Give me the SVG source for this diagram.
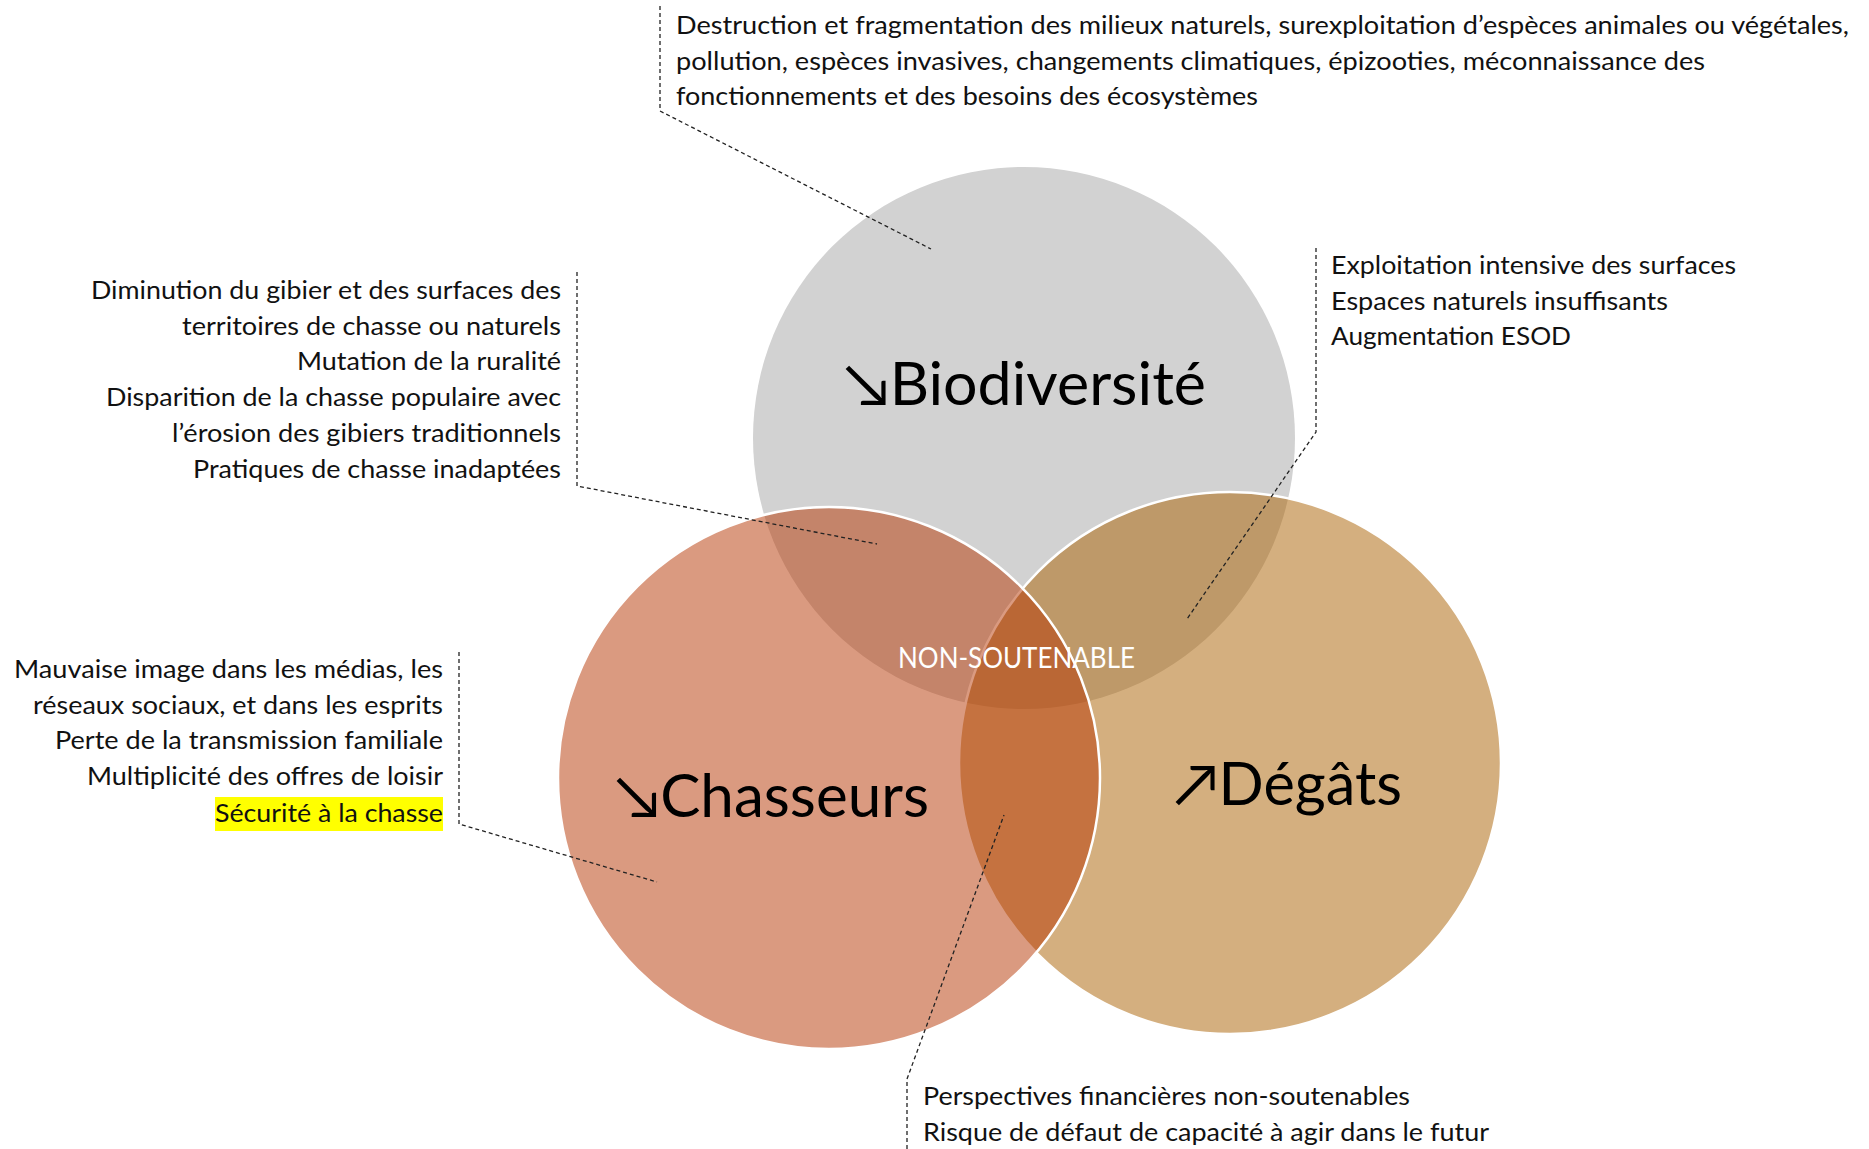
<svg xmlns="http://www.w3.org/2000/svg" width="1869" height="1149" viewBox="0 0 1869 1149">
<style>
.t{font-family:Lato,"Liberation Sans","DejaVu Sans",sans-serif;font-weight:400;font-size:25px;fill:#111}
.e{text-anchor:end}
.big{font-family:Lato,"Liberation Sans","DejaVu Sans",sans-serif;font-size:60px;fill:#000}
.ns{font-family:Lato,"Liberation Sans",sans-serif;font-weight:400;font-size:28px;fill:#fff}
.c{stroke:#fff;stroke-width:2.5}
.dl{fill:none;stroke:#222;stroke-width:1.3;stroke-dasharray:4 3}
</style>
<rect width="1869" height="1149" fill="#fff"/>
<g id="biodiversite">
<circle cx="1024" cy="438" r="271" fill="#D2D2D2"/>
</g>
<g id="degats">
<circle class="c" cx="1230" cy="763" r="271" fill="#AA6000" fill-opacity="0.5"/>
</g>
<g id="chasseurs">
<circle class="c" cx="829" cy="778" r="271" fill="#B53501" fill-opacity="0.5"/>
</g>
<g id="labels">
<text class="big" x="844" y="405" textLength="362" lengthAdjust="spacingAndGlyphs">↘Biodiversité</text>
<text class="big" x="615" y="817" textLength="314" lengthAdjust="spacingAndGlyphs">↘Chasseurs</text>
<text class="big" x="1174" y="805" textLength="228" lengthAdjust="spacingAndGlyphs">↗Dégâts</text>
<text class="ns" x="898" y="668" textLength="237" lengthAdjust="spacingAndGlyphs">NON-SOUTENABLE</text>
</g>
<g id="connectors">
<polyline class="dl" points="660,6 660,111 931,249"/>
<polyline class="dl" points="577,272 577,486 877,544"/>
<polyline class="dl" points="459,652 459,824 657,882"/>
<polyline class="dl" points="1316,248 1316,432 1187,619"/>
<polyline class="dl" points="907,1149 907,1079 1004,815"/>
</g>
<g id="note-biodiversite">
<text class="t" x="676" y="34" textLength="1173" lengthAdjust="spacingAndGlyphs">Destruction et fragmentation des milieux naturels, surexploitation d’espèces animales ou végétales,</text>
<text class="t" x="676" y="70" textLength="1029" lengthAdjust="spacingAndGlyphs">pollution, espèces invasives, changements climatiques, épizooties, méconnaissance des</text>
<text class="t" x="676" y="105" textLength="582" lengthAdjust="spacingAndGlyphs">fonctionnements et des besoins des écosystèmes</text>
</g>
<g id="note-bio-chasseurs">
<text class="t e" x="561" y="299" textLength="470" lengthAdjust="spacingAndGlyphs">Diminution du gibier et des surfaces des</text>
<text class="t e" x="561" y="335" textLength="379" lengthAdjust="spacingAndGlyphs">territoires de chasse ou naturels</text>
<text class="t e" x="561" y="370" textLength="264" lengthAdjust="spacingAndGlyphs">Mutation de la ruralité</text>
<text class="t e" x="561" y="406" textLength="455" lengthAdjust="spacingAndGlyphs">Disparition de la chasse populaire avec</text>
<text class="t e" x="561" y="442" textLength="389" lengthAdjust="spacingAndGlyphs">l’érosion des gibiers traditionnels</text>
<text class="t e" x="561" y="478" textLength="368" lengthAdjust="spacingAndGlyphs">Pratiques de chasse inadaptées</text>
</g>
<g id="note-chasseurs">
<rect x="215" y="797" width="228" height="34" fill="#FFFF00"/>
<text class="t e" x="443" y="678" textLength="429" lengthAdjust="spacingAndGlyphs">Mauvaise image dans les médias, les</text>
<text class="t e" x="443" y="714" textLength="410" lengthAdjust="spacingAndGlyphs">réseaux sociaux, et dans les esprits</text>
<text class="t e" x="443" y="749" textLength="388" lengthAdjust="spacingAndGlyphs">Perte de la transmission familiale</text>
<text class="t e" x="443" y="785" textLength="356" lengthAdjust="spacingAndGlyphs">Multiplicité des offres de loisir</text>
<text class="t e" x="443" y="822" textLength="228" lengthAdjust="spacingAndGlyphs">Sécurité à la chasse</text>
</g>
<g id="note-bio-degats">
<text class="t" x="1331" y="274" textLength="405" lengthAdjust="spacingAndGlyphs">Exploitation intensive des surfaces</text>
<text class="t" x="1331" y="310" textLength="337" lengthAdjust="spacingAndGlyphs">Espaces naturels insuffisants</text>
<text class="t" x="1331" y="345" textLength="240" lengthAdjust="spacingAndGlyphs">Augmentation ESOD</text>
</g>
<g id="note-chasseurs-degats">
<text class="t" x="923" y="1105" textLength="487" lengthAdjust="spacingAndGlyphs">Perspectives financières non-soutenables</text>
<text class="t" x="923" y="1141" textLength="566" lengthAdjust="spacingAndGlyphs">Risque de défaut de capacité à agir dans le futur</text>
</g>
</svg>
